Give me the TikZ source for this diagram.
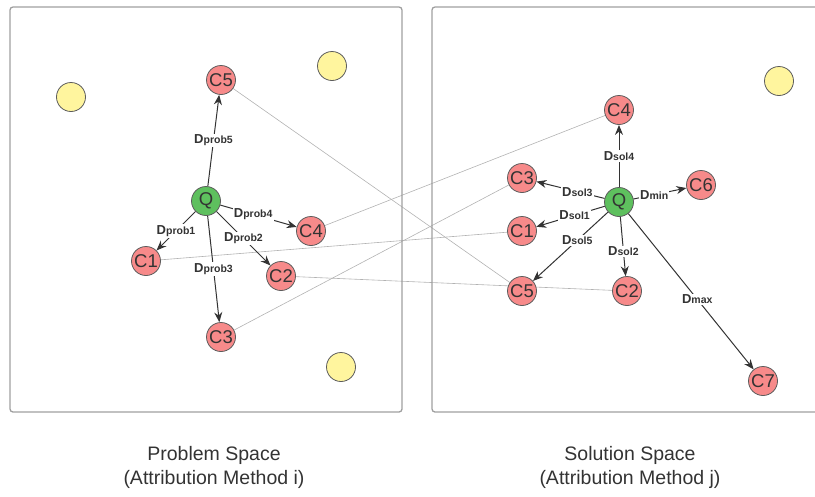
\documentclass[tikz,border=0pt]{standalone}
\usepackage{fontspec}
\setmainfont{Liberation Sans}
\usetikzlibrary{arrows.meta,backgrounds}

\definecolor{cand}{HTML}{F78A8A}
\definecolor{query}{HTML}{5EC05E}
\definecolor{other}{HTML}{FFF59E}
\definecolor{ink}{HTML}{333333}

\tikzset{
  pt/.style={circle, draw=ink!80, fill=#1, line width=0.8pt, minimum size=29pt,
    inner sep=0pt, text=ink, font=\fontsize{18.5}{18.5}\selectfont},
  dist/.style={->, draw=ink, line width=1pt},
  lbl/.style={fill=white, inner sep=1.2pt, text=ink, font=\bfseries\fontsize{13}{13}\selectfont},
  link/.style={draw=gray!60, line width=0.6pt},
  space/.style={draw=gray!75, line width=1.3pt, rounded corners=3pt},
  caption/.style={align=center, text=ink, font=\fontsize{19.5}{24}\selectfont},
}
\newcommand{\dlab}[1]{D{\fontsize{10.5}{10.5}\selectfont #1}}

\begin{document}
\begin{tikzpicture}[x=1pt, y=-1pt, >={Stealth[length=10pt,width=8pt]}]
  \useasboundingbox (0,0) rectangle (815,496);

  % the two spaces
  \draw[space] (10,7) rectangle (402,412);
  \draw[space] (432,7) rectangle (830,412);

  % problem space
  \node[pt=query] (pq) at (206,201) {Q};
  \node[pt=cand] (p1) at (146,261) {C1};
  \node[pt=cand] (p2) at (281,276) {C2};
  \node[pt=cand] (p3) at (221,337) {C3};
  \node[pt=cand] (p4) at (311,231) {C4};
  \node[pt=cand] (p5) at (221,80) {C5};
  \node[pt=other] (py1) at (71,97) {};
  \node[pt=other] (py2) at (332,66) {};
  \node[pt=other] (py3) at (341,367) {};

  \draw[dist] (pq) -- node[lbl] {\dlab{prob5}} (p5);
  \draw[dist] (pq) -- node[lbl] {\dlab{prob1}} (p1);
  \draw[dist] (pq) -- node[lbl, pos=0.43] {\dlab{prob4}} (p4);
  \draw[dist] (pq) -- node[lbl] {\dlab{prob2}} (p2);
  \draw[dist] (pq) -- node[lbl] {\dlab{prob3}} (p3);

  % solution space
  \node[pt=query] (sq) at (619,202) {Q};
  \node[pt=cand] (s1) at (522,231) {C1};
  \node[pt=cand] (s2) at (627,291) {C2};
  \node[pt=cand] (s3) at (522,178) {C3};
  \node[pt=cand] (s4) at (619,110) {C4};
  \node[pt=cand] (s5) at (522,291) {C5};
  \node[pt=cand] (s6) at (701,185) {C6};
  \node[pt=cand] (s7) at (763,381) {C7};
  \node[pt=other] (sy1) at (779,81) {};

  \draw[dist] (sq) -- node[lbl] {\dlab{sol4}} (s4);
  \draw[dist] (sq) -- node[lbl, pos=0.4] {\dlab{sol3}} (s3);
  \draw[dist] (sq) -- node[lbl, pos=0.39] {\dlab{min}} (s6);
  \draw[dist] (sq) -- node[lbl, pos=0.44] {\dlab{sol1}} (s1);
  \draw[dist] (sq) -- node[lbl, pos=0.41] {\dlab{sol5}} (s5);
  \draw[dist] (sq) -- node[lbl, pos=0.58] {\dlab{sol2}} (s2);
  \draw[dist] (sq) -- node[lbl, pos=0.55] {\dlab{max}} (s7);

  % same candidates in both spaces
  \begin{scope}[on background layer]
    \foreach \c in {1,...,5}
      \draw[link] (p\c) -- (s\c);
  \end{scope}

  \node[caption] (pcap) at (214,467) {Problem Space\\(Attribution Method i)};
  \node[caption] (scap) at (630,467) {Solution Space\\(Attribution Method j)};
\end{tikzpicture}
\end{document}
